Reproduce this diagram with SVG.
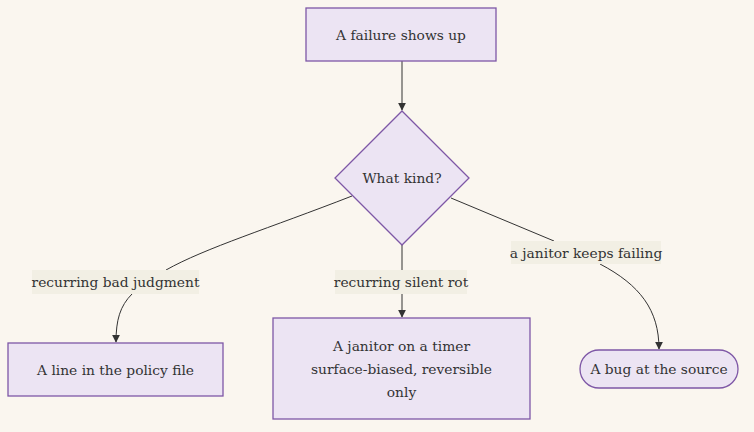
<svg xmlns="http://www.w3.org/2000/svg" width="754" height="432" viewBox="0 0 754 432">
<defs>
<style>
.node{fill:#ECE4F3;stroke:#7E57A6;stroke-width:1.3}
.t{font-family:'DejaVu Serif', serif;font-size:13.8px;fill:#333;text-anchor:middle;dominant-baseline:central}
.e{fill:none;stroke:#333;stroke-width:1}
.lb{fill:#F2EFE4}
</style>
<marker id="ah" viewBox="0 0 10 10" refX="9" refY="5" markerWidth="8" markerHeight="8" orient="auto" markerUnits="userSpaceOnUse">
<path d="M0,0 L10,5 L0,10 z" fill="#333"/>
</marker>
</defs>
<rect width="754" height="432" fill="#FAF6EF"/>
<g id="connectors">
<path class="e" d="M402,61 L402,110" marker-end="url(#ah)"/>
<path class="e" d="M352,196 C270,228 205,248 166,270"/>
<path class="e" d="M132,294 C120,306 116,320 116,342" marker-end="url(#ah)"/>
<path class="e" d="M402,245 L402,270"/>
<path class="e" d="M402,294 L402,317" marker-end="url(#ah)"/>
<path class="e" d="M451,198 L554,241"/>
<path class="e" d="M600,264 C640,285 659,310 659,349" marker-end="url(#ah)"/>
<g id="edge-labels">
<rect class="lb" x="32" y="270" width="167" height="24"/>
<text class="t" x="115.5" y="282">recurring bad judgment</text>
<rect class="lb" x="335" y="270" width="132" height="24"/>
<text class="t" x="401" y="282">recurring silent rot</text>
<rect class="lb" x="511" y="241" width="150" height="23"/>
<text class="t" x="586" y="252.5">a janitor keeps failing</text>
</g>
</g>
<g id="start">
<rect class="node" x="306" y="8" width="190" height="53"/>
<text class="t" x="401" y="34.5">A failure shows up</text>
</g>
<g id="kind">
<polygon class="node" points="402,111 469,178 402,245 335,178"/>
<text class="t" x="402" y="178">What kind?</text>
</g>
<g id="policy">
<rect class="node" x="8" y="343" width="215" height="53"/>
<text class="t" x="115.5" y="369.5">A line in the policy file</text>
</g>
<g id="janitor">
<rect class="node" x="273" y="318" width="257" height="101"/>
<text class="t" x="401.5" y="346">A janitor on a timer</text>
<text class="t" x="401.5" y="369">surface-biased, reversible</text>
<text class="t" x="401.5" y="392">only</text>
</g>
<g id="bug">
<rect class="node" x="580" y="350" width="158" height="38" rx="19" ry="19"/>
<text class="t" x="659" y="369">A bug at the source</text>
</g>
</svg>
